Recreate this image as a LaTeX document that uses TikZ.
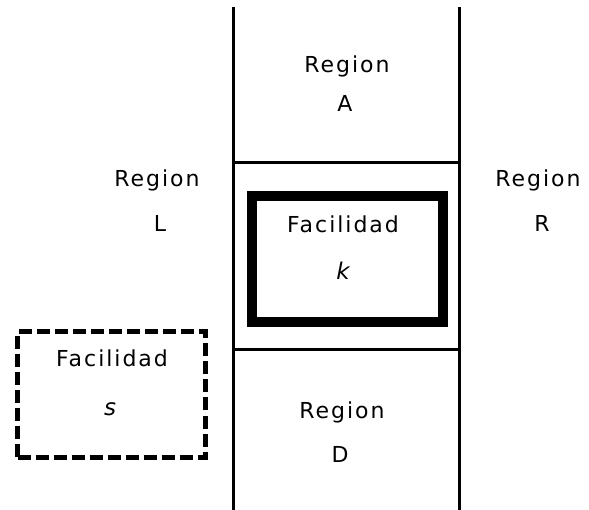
\documentclass[tikz,border=0pt]{standalone}
\usepackage{fontspec}
\setmainfont{DejaVu Sans}[LetterSpace=9]
\begin{document}
\begin{tikzpicture}[x=1pt,y=-1pt,
  lbl/.style={anchor=base,inner sep=0pt,font=\fontsize{22}{26}\selectfont},
  ital/.style={anchor=base,inner sep=0pt,font=\fontsize{23}{26}\selectfont\itshape},
  wall/.style={line width=3pt},
  facthick/.style={draw,line width=10pt,inner sep=0pt},
  facdash/.style={draw,line width=5pt,dash pattern=on 13pt off 5pt,inner sep=0pt}]
\useasboundingbox (0,0) rectangle (589,510);
% region walls
\coordinate (vlt) at (233,7);
\coordinate (vlb) at (233,510);
\coordinate (vrt) at (459,7);
\coordinate (vrb) at (459,510);
\coordinate (h1l) at (233,163);
\coordinate (h1r) at (459,163);
\coordinate (h2l) at (233,350);
\coordinate (h2r) at (459,350);
\draw[wall] (vlt) -- (vlb);
\draw[wall] (vrt) -- (vrb);
\draw[wall] (h1l) -- (h1r);
\draw[wall] (h2l) -- (h2r);
% facilities
\node[facthick,minimum width=191pt,minimum height=126pt] (fk) at (347.5,259) {};
\node[facdash,minimum width=187.5pt,minimum height=125pt] (fs) at (111.25,394.5) {};
% labels
\node[lbl] (ra1) at (347,73) {Region};
\node[lbl] (ra2) at (345,112) {A};
\node[lbl] (rl1) at (157,187) {Region};
\node[lbl] (rl2) at (160,232) {L};
\node[lbl] (rr1) at (538,187) {Region};
\node[lbl] (rr2) at (542,232) {R};
\node[lbl] (rd1) at (342,418) {Region};
\node[lbl] (rd2) at (340,462) {D};
\node[lbl] (fk1) at (343,233) {Facilidad};
\node[ital] (fk2) at (343,280) {k};
\node[lbl] (fs1) at (112,367) {Facilidad};
\node[ital] (fs2) at (110,415) {s};
\end{tikzpicture}
\end{document}
